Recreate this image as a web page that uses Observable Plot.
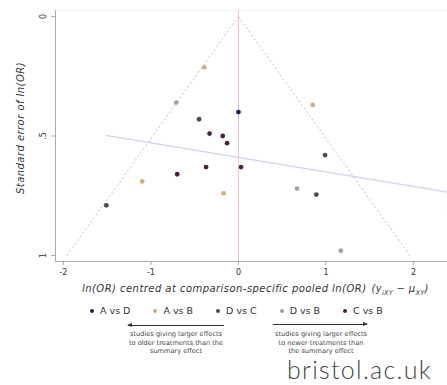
<!DOCTYPE html>
<html><head><meta charset="utf-8">
<script src="https://cdn.jsdelivr.net/npm/d3@7"></script>
<script src="https://cdn.jsdelivr.net/npm/@observablehq/plot@0.6"></script>
<style>
body{margin:0;background:#fff;font-family:"DejaVu Sans",sans-serif;}
#wrap{position:relative;width:447px;height:385px;overflow:hidden;}
#xtitle{position:absolute;left:82px;top:283px;font-size:10px;letter-spacing:0.45px;font-style:italic;color:#333;white-space:nowrap;}
#xtitle .f{margin-left:5px;letter-spacing:0.3px;}
#xtitle sub{font-size:6.5px;}
#legend{position:absolute;left:90px;top:305px;display:flex;gap:23px;font-size:9.5px;color:#333;white-space:nowrap;}
#legend .it{display:flex;align-items:center;gap:6px;}
#legend .sw{width:4px;height:4px;border-radius:50%;}
.arrow{position:absolute;height:0;border-top:1px solid #333;}
.arrow.l::before{content:"";position:absolute;left:-1px;top:-3px;border-right:5px solid #333;border-top:2.5px solid transparent;border-bottom:2.5px solid transparent;}
.arrow.r::after{content:"";position:absolute;right:-1px;top:-3px;border-left:5px solid #333;border-top:2.5px solid transparent;border-bottom:2.5px solid transparent;}
.note{position:absolute;width:116px;text-align:center;font-size:6.6px;line-height:8.6px;color:#444;}
#brand{position:absolute;left:287px;top:354px;font-family:Lato,sans-serif;font-weight:300;font-size:25px;line-height:normal;letter-spacing:1.3px;color:#444;}
</style></head><body><div id="wrap"></div>
<script>
// --- data ---
const comparisons = ["A vs D", "A vs B", "D vs C", "D vs B", "C vs B"];
const comparisonColors = ["#1e1e5e", "#cdae78", "#4b4b4b", "#a5a196", "#4a2242"];
const effect = [-0.39, -0.71, 0.00, -0.45, -0.33, -0.18, -0.13, 0.85, 0.99, -1.51, -1.10, -0.70, -0.37, 0.03, -0.17, 0.67, 0.89, 1.17, 2.41];
const stdErr = [0.213, 0.36, 0.40, 0.43, 0.49, 0.50, 0.53, 0.37, 0.58, 0.79, 0.69, 0.66, 0.63, 0.63, 0.74, 0.72, 0.745, 0.98, 0.80];
const comparison = ["A vs B", "D vs B", "A vs D", "D vs C", "C vs B", "C vs B", "C vs B", "A vs B", "D vs C", "D vs C", "A vs B", "C vs B", "C vs B", "C vs B", "A vs B", "D vs B", "D vs C", "D vs B", "C vs B"];
const funnelSE = [0, 1];
const z95 = 1.96;
const xTicks = [-2, -1, 0, 1, 2];
const xTickLabels = ["-2", "-1", "0", "1", "2"];
const yTicks = [0, 0.5, 1];
const yTickLabels = ["0", ".5", "1"];
const yTitle = "Standard error of ln(OR)";
const leftNote = ["studies giving larger effects", "to older treatments than the", "summary effect"];
const rightNote = ["studies giving larger effects", "to newer treatments than", "the summary effect"];

const points = effect.map((e, i) => ({effect: e, se: stdErr[i], comparison: comparison[i]}));

const chart = Plot.plot({
  width: 447, height: 280,
  marginLeft: 55, marginRight: 0, marginTop: 10, marginBottom: 19,
  style: {fontFamily: "DejaVu Sans, sans-serif", background: "#fff"},
  x: {domain: [-2.091, 2.389], axis: null},
  y: {domain: [-0.025, 1.025], reverse: true, axis: null},
  color: {domain: comparisons, range: comparisonColors},
  marks: [
    Plot.frame({anchor: "top", stroke: "#f0f0f0"}),
    Plot.line(funnelSE, {x: d => -z95 * d, y: d => d, stroke: "#c2c2c2", strokeDasharray: "1.5,3", strokeWidth: 1}),
    Plot.line(funnelSE, {x: d => z95 * d, y: d => d, stroke: "#c2c2c2", strokeDasharray: "1.5,3", strokeWidth: 1}),
    Plot.ruleX([0], {stroke: "#efc0cf", strokeWidth: 1}),
    Plot.linearRegressionY(points, {x: "effect", y: "se", stroke: "#d3d8ee", strokeWidth: 1.5, ci: 0}),
    Plot.dot(points, {x: "effect", y: "se", fill: "comparison", r: 2.4}),
    Plot.frame({anchor: "left", stroke: "#aaa"}),
    Plot.frame({anchor: "bottom", stroke: "#aaa"}),
    Plot.axisX({ticks: xTicks, tickSize: 4, tickPadding: 4, fontSize: 8, stroke: "#aaa", fill: "#333", label: null,
      tickFormat: d => xTickLabels[xTicks.indexOf(d)]}),
    Plot.axisY({ticks: yTicks, tickSize: 4, stroke: "#aaa", label: null, tickFormat: () => ""}),
    Plot.text(yTicks, {y: d => d, frameAnchor: "left", textAnchor: "middle", dx: -12, rotate: -90, fontSize: 8, fill: "#333",
      text: (d, i) => yTickLabels[i]}),
    Plot.text([yTitle], {frameAnchor: "left", textAnchor: "middle", dx: -35, dy: -8, rotate: -90, fontSize: 10, fontStyle: "italic", fill: "#333", text: d => d})
  ]
});

d3.select(chart).selectAll("text").filter(function() { return this.textContent === yTitle; })
  .attr("letter-spacing", "0.45");

const wrap = document.getElementById("wrap");
wrap.appendChild(chart);

const xt = document.createElement("div");
xt.id = "xtitle";
xt.innerHTML = 'ln(OR) centred at comparison-specific pooled ln(OR)<span class="f">(y<sub>iXY</sub> \u2212 \u03bc<sub>XY</sub>)</span>';
wrap.appendChild(xt);

const lg = document.createElement("div");
lg.id = "legend";
comparisons.forEach((c, i) => {
  const it = document.createElement("div"); it.className = "it";
  const sw = document.createElement("span"); sw.className = "sw"; sw.style.background = comparisonColors[i];
  const tx = document.createElement("span"); tx.textContent = c;
  it.appendChild(sw); it.appendChild(tx); lg.appendChild(it);
});
wrap.appendChild(lg);

function addArrow(cls, left, top, width) {
  const a = document.createElement("div");
  a.className = "arrow " + cls;
  a.style.left = left + "px"; a.style.top = top + "px"; a.style.width = width + "px";
  wrap.appendChild(a);
}
addArrow("l", 128, 325, 96);
addArrow("r", 273, 324, 94);

function addNote(lines, left) {
  const n = document.createElement("div");
  n.className = "note"; n.style.left = left + "px"; n.style.top = "330px";
  n.innerHTML = lines.join("<br>");
  wrap.appendChild(n);
}
addNote(leftNote, 118);
addNote(rightNote, 263);

const br = document.createElement("div");
br.id = "brand"; br.textContent = "bristol.ac.uk";
wrap.appendChild(br);
</script>
</body></html>
